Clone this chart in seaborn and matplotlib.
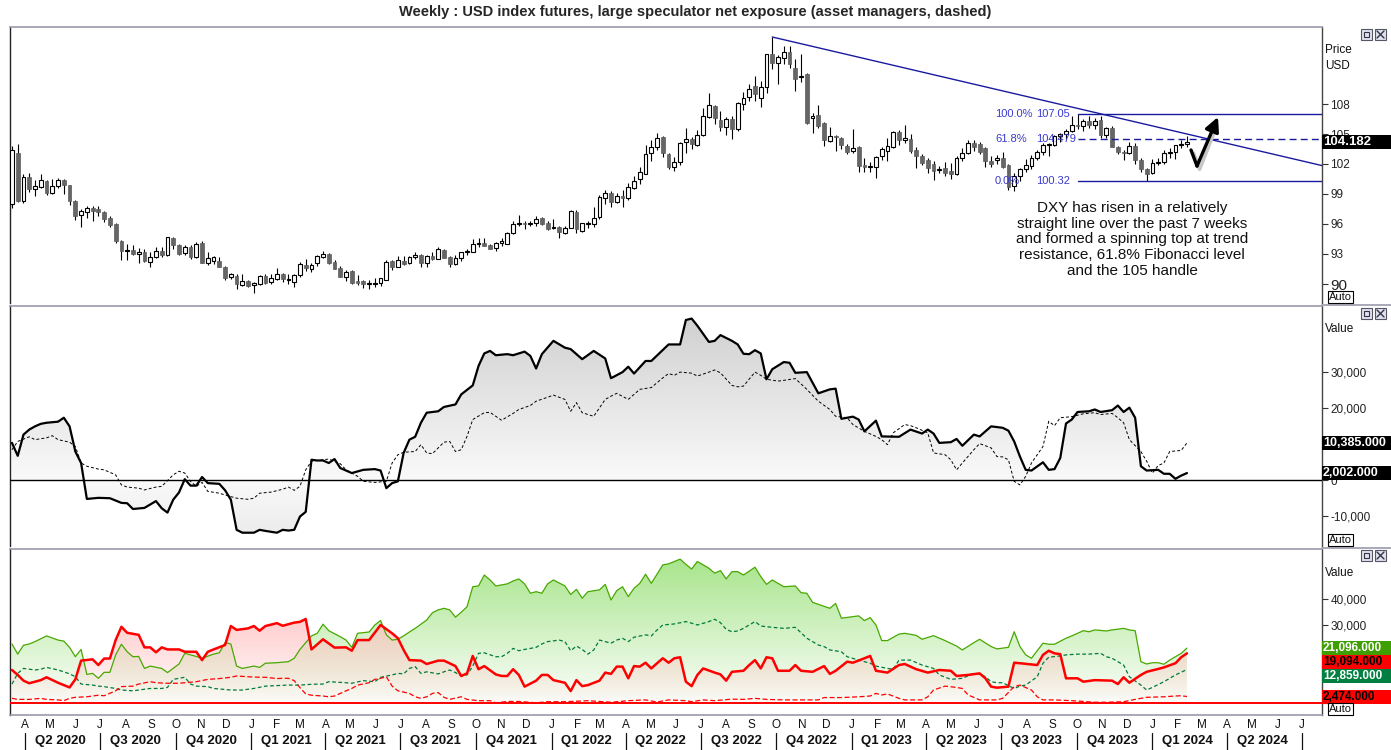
import numpy as np
import pandas as pd
import matplotlib
matplotlib.use("Agg")
import matplotlib.pyplot as plt
import matplotlib.dates as mdates
from matplotlib import font_manager, transforms
from matplotlib.path import Path
from matplotlib.patches import Rectangle
from matplotlib.lines import Line2D
import seaborn as sns

# ---------------- data ----------------
START = "2020-03-16"   # first weekly bar

opens = [98.0, 103.1, 98.3, 100.7, 99.5, 99.7, 100.3, 99.1, 99.8, 100.4,
         99.9, 98.3, 96.9, 97.2, 97.6, 97.5, 97.2, 96.6, 96.0, 94.3,
         93.3, 93.4, 93.0, 93.2, 92.2, 92.7, 93.3, 92.9, 94.6, 93.9,
         93.1, 93.7, 92.7, 94.1, 92.1, 92.3, 92.3, 91.7, 90.7, 90.8,
         89.9, 90.3, 89.9, 90.0, 90.8, 90.2, 90.5, 91.0, 90.4, 90.2,
         90.9, 91.9, 91.5, 92.1, 92.7, 93.0, 92.2, 91.6, 90.7, 91.3,
         90.3, 90.3, 90.0, 90.0, 90.1, 90.4, 92.3, 91.7, 92.3, 92.1,
         92.7, 92.9, 92.1, 92.8, 92.5, 93.4, 92.7, 92.0, 92.6, 93.2,
         93.2, 94.0, 94.1, 93.9, 93.6, 94.1, 94.0, 95.1, 96.0, 96.1,
         96.0, 96.1, 96.6, 96.1, 95.6, 95.7, 95.1, 95.6, 97.2, 95.3,
         96.0, 96.0, 96.7, 98.6, 99.1, 98.2, 98.8, 98.6, 99.6, 100.5,
         101.0, 103.1, 103.7, 104.7, 103.0, 101.7, 102.2, 104.2, 104.5, 103.9,
         104.9, 106.7, 107.8, 106.4, 105.7, 106.5, 105.5, 108.0, 108.7, 109.8,
         108.6, 109.7, 113.0, 112.1, 112.6, 113.2, 111.6, 110.7, 111.0, 106.6,
         106.9, 106.1, 104.3, 104.8, 104.6, 103.8, 103.3, 103.7, 101.9, 101.7,
         101.7, 102.8, 103.3, 103.7, 105.2, 104.4, 104.5, 103.4, 102.8, 102.4,
         102.0, 101.4, 101.6, 101.3, 101.0, 102.6, 103.1, 104.1, 104.0, 103.6,
         102.3, 102.4, 102.6, 101.9, 99.8, 100.8, 101.5, 101.8, 102.6, 103.2,
         103.9, 103.9, 104.8, 105.0, 105.3, 105.9, 105.8, 106.3, 105.9, 106.4,
         104.9, 105.6, 103.7, 103.2, 103.1, 103.8, 102.4, 101.5, 101.1, 102.1,
         102.2, 103.1, 103.2, 103.9, 104.0]
highs = [103.8, 104.0, 101.0, 101.1, 100.4, 101.0, 100.4, 100.5, 100.6, 100.5,
         99.9, 98.4, 97.5, 97.8, 97.8, 97.8, 97.3, 96.8, 96.1, 94.4,
         94.0, 93.9, 93.6, 93.5, 93.2, 93.7, 93.7, 94.7, 94.7, 94.0,
         93.9, 93.9, 94.2, 94.3, 93.2, 92.8, 92.7, 91.8, 91.1, 91.0,
         91.0, 90.4, 90.2, 90.9, 91.0, 91.0, 91.6, 91.1, 91.0, 91.0,
         92.2, 92.5, 92.1, 92.9, 93.3, 93.1, 92.4, 91.8, 91.4, 91.4,
         90.9, 90.4, 90.4, 90.6, 90.6, 92.4, 92.4, 92.8, 92.8, 92.8,
         93.2, 93.0, 92.9, 93.2, 93.7, 93.5, 92.8, 92.9, 93.2, 93.5,
         94.5, 94.6, 94.6, 94.0, 94.2, 94.6, 95.2, 96.3, 96.9, 96.3,
         96.3, 96.8, 96.7, 96.3, 96.5, 95.8, 95.8, 97.4, 97.4, 96.1,
         96.3, 97.7, 98.9, 99.4, 99.3, 99.1, 99.4, 100.1, 100.8, 101.7,
         103.9, 104.4, 105.1, 104.8, 103.1, 102.7, 104.2, 105.6, 104.7, 105.4,
         107.6, 109.1, 107.9, 107.3, 106.7, 106.8, 108.2, 109.2, 110.0, 110.8,
         110.3, 113.0, 114.7, 112.9, 113.8, 113.8, 112.5, 113.0, 111.1, 107.1,
         107.9, 106.2, 105.7, 104.9, 104.7, 104.0, 105.5, 103.8, 102.6, 102.2,
         102.8, 103.7, 104.6, 105.3, 105.4, 105.9, 105.0, 103.7, 103.0, 102.6,
         102.3, 101.8, 102.2, 102.1, 102.8, 103.6, 104.4, 104.4, 104.2, 103.7,
         102.8, 102.9, 103.2, 102.0, 101.1, 101.6, 102.5, 102.9, 103.4, 104.1,
         104.1, 104.9, 105.1, 105.5, 106.8, 107.05, 106.5, 106.8, 106.6, 106.8,
         105.7, 105.8, 103.8, 103.4, 104.2, 104.1, 102.6, 101.6, 102.5, 102.6,
         103.4, 103.6, 103.9, 104.4, 104.8]
lows = [97.6, 98.2, 98.1, 99.2, 98.8, 99.6, 98.9, 99.0, 99.6, 99.0,
        97.9, 96.4, 95.7, 96.6, 96.3, 96.8, 96.2, 95.7, 94.1, 92.4,
        92.4, 92.9, 92.1, 92.2, 91.7, 92.6, 92.7, 92.8, 93.5, 92.9,
        92.9, 92.5, 92.6, 92.1, 91.9, 92.0, 91.7, 90.4, 90.5, 89.5,
        89.8, 89.7, 89.1, 89.9, 90.0, 90.0, 90.4, 90.2, 90.0, 89.7,
        90.7, 91.3, 91.2, 91.8, 92.6, 92.0, 91.5, 90.7, 90.3, 90.0,
        89.9, 89.6, 89.5, 89.7, 89.8, 90.4, 91.4, 91.7, 91.9, 92.0,
        92.5, 91.7, 91.7, 92.4, 92.5, 92.6, 91.7, 91.9, 92.3, 92.9,
        93.2, 93.7, 93.8, 93.5, 93.3, 93.8, 94.0, 95.0, 95.8, 95.5,
        95.8, 95.8, 95.9, 95.4, 95.5, 94.6, 95.0, 95.6, 95.1, 95.2,
        95.6, 95.7, 96.5, 98.0, 97.7, 98.1, 97.7, 98.4, 99.5, 100.0,
        101.0, 102.3, 103.4, 102.7, 101.5, 101.3, 101.9, 103.1, 103.5, 103.8,
        104.8, 106.6, 106.0, 105.3, 104.9, 104.5, 105.3, 107.4, 108.3, 108.3,
        107.7, 109.1, 111.5, 110.0, 112.0, 111.6, 109.3, 110.2, 106.0, 105.1,
        105.6, 103.8, 104.2, 103.3, 103.5, 103.0, 103.1, 101.2, 101.2, 101.2,
        100.6, 102.4, 102.3, 103.6, 103.9, 104.1, 103.1, 101.6, 101.9, 101.1,
        100.4, 101.1, 100.8, 100.5, 100.9, 102.3, 103.0, 103.3, 103.0, 101.7,
        101.7, 102.0, 101.6, 99.4, 99.3, 100.3, 101.2, 101.5, 102.4, 102.9,
        102.8, 103.8, 104.2, 104.5, 105.2, 105.5, 105.3, 105.6, 105.5, 104.6,
        104.6, 103.7, 103.0, 102.4, 103.0, 102.0, 101.2, 100.32, 101.0, 101.9,
        102.0, 102.6, 102.5, 103.6, 103.7]
closes = [103.4, 98.3, 100.7, 99.5, 99.8, 100.4, 99.1, 99.8, 100.4, 99.9,
          98.3, 96.8, 97.3, 97.6, 97.3, 97.2, 96.5, 95.9, 94.3, 93.3,
          93.4, 93.0, 93.2, 92.3, 92.7, 93.3, 92.9, 94.7, 93.9, 93.0,
          93.7, 92.7, 94.0, 92.1, 92.6, 92.7, 91.7, 90.6, 91.0, 90.0,
          90.3, 89.8, 90.1, 90.8, 90.1, 90.6, 91.0, 90.5, 90.4, 90.9,
          92.0, 91.6, 91.9, 92.8, 93.0, 92.1, 91.5, 90.7, 91.2, 90.1,
          90.1, 90.0, 90.0, 90.1, 90.6, 92.2, 91.7, 92.4, 92.0, 92.7,
          92.9, 92.1, 92.8, 92.5, 93.5, 92.6, 92.0, 92.6, 93.2, 93.3,
          94.0, 94.1, 93.8, 93.5, 94.1, 94.3, 95.1, 96.0, 96.1, 96.0,
          96.1, 96.5, 96.0, 95.5, 95.7, 95.2, 95.6, 97.3, 95.5, 96.1,
          96.0, 96.6, 98.7, 99.1, 98.2, 98.8, 98.6, 99.7, 100.3, 101.2,
          103.0, 103.7, 104.6, 103.1, 101.7, 102.2, 104.1, 104.5, 104.0, 104.9,
          106.8, 107.9, 106.6, 105.7, 106.5, 105.5, 108.1, 108.6, 109.5, 109.0,
          109.7, 113.0, 112.1, 112.7, 113.2, 112.0, 110.5, 110.7, 106.1, 106.8,
          105.8, 104.4, 104.8, 104.7, 103.9, 103.2, 103.6, 101.8, 101.7, 101.7,
          102.7, 103.5, 103.8, 105.2, 104.4, 104.6, 103.3, 102.8, 102.1, 101.6,
          101.3, 101.5, 101.1, 101.0, 102.6, 103.1, 104.1, 103.7, 103.2, 102.3,
          102.0, 102.6, 101.7, 99.7, 100.8, 101.5, 101.9, 102.6, 103.2, 103.9,
          103.9, 104.8, 105.0, 105.3, 105.9, 105.8, 106.3, 105.9, 106.3, 104.9,
          105.6, 103.7, 103.2, 103.1, 103.8, 102.4, 101.5, 101.0, 102.1, 102.2,
          103.1, 103.2, 103.9, 104.0, 104.182]

# COT positions, (week number from START, thousands of contracts)
net_spec = [(0,10.4),(1,6.8),(2,12.7),(3,14.1),(4,15.0),(5,15.7),(6,16.0),(8,16.3),(9,17.4),(10,15.0),
    (11,8.0),(12,4.8),(13,-5.2),(15,-4.9),(17,-5.0),(19,-6.3),(20,-6.4),(21,-8.0),(23,-7.7),(25,-5.8),
    (26,-7.8),(27,-9.0),(28,-5.4),(29,-3.4),(30,0.3),(31,-1.5),(32,-1.5),(33,0.9),(34,-0.8),(36,-1.0),
    (37,-2.8),(38,-5.4),(39,-13.8),(40,-14.6),(42,-14.6),(43,-13.8),(44,-14.1),(46,-14.6),(47,-13.8),(48,-14.0),
    (49,-13.8),(50,-10.1),(51,-8.8),(52,5.7),(53,5.5),(54,5.5),(55,4.8),(56,5.9),(57,3.4),(59,2.0),
    (61,2.9),(63,3.1),(64,2.7),(65,-2.2),(66,-0.8),(67,-0.3),(68,7.6),(69,11.3),(70,12.1),(71,16.0),
    (72,18.8),(74,19.2),(75,20.4),(77,21.1),(78,23.9),(80,26.4),(81,31.8),(82,35.3),(83,36.0),(84,34.8),
    (86,35.1),(87,34.8),(89,35.8),(90,34.6),(91,31.1),(92,35.1),(94,38.8),(96,36.9),(97,36.5),(99,33.7),
    (101,36.0),(103,33.9),(104,28.4),(106,30.1),(107,31.6),(108,29.7),(110,33.2),(111,33.2),(114,37.8),(116,37.8),
    (117,44.6),(118,45.0),(119,43.0),(121,38.5),(122,38.8),(123,40.4),(125,38.8),(126,37.8),(127,35.2),(128,35.1),
    (129,36.2),(130,35.3),(131,28.1),(132,30.9),(134,32.9),(135,32.7),(136,29.9),(138,30.1),(140,24.2),(142,25.3),
    (143,25.5),(144,17.1),(146,17.7),(147,16.9),(148,13.6),(150,16.6),(151,12.2),(154,12.1),(156,14.1),(158,13.0),
    (159,14.1),(160,13.0),(161,10.4),(163,10.6),(164,11.5),(165,9.6),(167,12.7),(168,12.2),(170,15.0),(172,14.6),
    (173,13.8),(174,10.8),(175,6.6),(176,2.9),(177,2.7),(179,5.0),(180,2.9),(181,3.1),(182,6.2),(183,15.8),
    (184,16.9),(185,19.0),(187,19.2),(188,19.7),(189,19.0),(191,19.5),(192,20.8),(193,19.0),(194,20.2),(195,17.4),
    (196,3.9),(197,2.7),(199,2.9),(200,1.8),(201,1.8),(202,0.4),(203,1.3),(204,2.0)]
net_am = [(0,8.5),(1,10.8),(3,12.1),(4,11.3),(6,11.8),(7,12.4),(8,11.3),(10,10.6),(11,9.4),(12,4.8),
    (13,3.9),(15,3.1),(16,2.9),(18,1.5),(19,-1.3),(20,-1.9),(22,-2.2),(23,-2.7),(25,-1.9),(26,-1.7),
    (28,1.5),(29,2.5),(30,2.0),(31,-0.3),(32,-1.7),(33,-0.6),(34,-3.1),(36,-3.6),(37,-4.1),(39,-5.0),
    (41,-5.3),(42,-5.0),(43,-3.6),(45,-3.3),(47,-2.5),(48,-1.9),(49,-2.8),(50,-1.7),(51,2.9),(52,5.3),
    (54,5.7),(55,5.9),(57,4.6),(58,2.9),(60,1.1),(61,-0.3),(63,-0.6),(65,-0.3),(66,4.8),(67,7.1),
    (68,7.8),(70,8.0),(71,9.9),(72,7.6),(73,7.4),(75,10.6),(76,10.8),(77,8.0),(78,8.5),(79,12.2),
    (80,16.9),(82,18.8),(83,18.9),(85,16.7),(87,18.6),(88,19.7),(90,20.8),(91,22.0),(93,23.1),(94,23.7),
    (96,22.5),(97,19.2),(98,21.6),(99,18.8),(101,17.8),(103,22.5),(104,23.4),(105,24.2),(107,22.5),(109,25.3),
    (111,25.8),(113,28.5),(114,29.7),(115,29.2),(116,30.1),(118,29.8),(119,29.0),(121,30.1),(122,30.7),(123,29.9),
    (125,26.4),(126,26.0),(127,26.2),(129,30.1),(130,29.2),(131,28.1),(133,27.6),(134,27.8),(136,28.3),(138,25.3),
    (140,22.0),(142,19.7),(143,17.8),(145,17.4),(146,15.5),(148,13.6),(150,12.2),(151,11.3),(152,9.9),(153,13.2),
    (155,15.5),(156,15.2),(157,14.6),(159,13.2),(160,7.6),(162,7.1),(163,5.7),(164,2.9),(165,4.8),(167,8.5),
    (168,10.2),(170,9.0),(171,6.6),(172,6.5),(173,5.7),(174,-0.3),(175,-1.3),(176,1.1),(177,4.8),(179,9.4),
    (180,16.4),(181,15.2),(182,17.4),(184,17.7),(186,18.5),(188,18.8),(189,18.3),(191,18.6),(192,17.4),(193,16.0),
    (194,11.3),(196,8.0),(197,5.3),(198,2.0),(199,4.1),(200,4.8),(201,8.0),(203,8.3),(204,10.4)]
spec_long = [(0,22.7),(1,18.8),(2,22.2),(3,22.7),(4,23.6),(6,25.8),(8,24.2),(9,23.8),(10,21.4),(11,17.8),
    (12,20.6),(13,11.0),(14,11.4),(15,9.5),(16,11.8),(17,11.8),(18,18.5),(19,22.6),(20,19.7),(21,17.8),
    (22,17.9),(23,13.3),(24,14.2),(26,13.3),(27,11.7),(29,15.0),(30,19.1),(31,18.5),(32,17.9),(33,17.2),
    (35,18.8),(36,19.3),(37,23.2),(38,22.7),(39,14.2),(40,13.3),(42,14.2),(43,13.7),(44,15.3),(46,15.5),
    (48,15.9),(49,17.2),(50,20.6),(52,25.8),(53,26.8),(54,30.3),(55,27.8),(57,25.5),(58,24.2),(59,21.4),
    (60,26.8),(62,27.3),(63,30.0),(64,31.7),(65,26.2),(66,24.2),(67,24.5),(68,25.8),(69,27.3),(70,28.7),
    (72,31.9),(73,34.7),(74,35.8),(75,36.4),(76,35.8),(77,33.0),(78,34.9),(79,37.0),(80,44.7),(81,45.0),
    (82,49.2),(83,47.3),(84,45.0),(86,45.8),(87,46.9),(88,47.7),(89,45.8),(90,42.2),(91,42.8),(92,42.2),
    (93,45.8),(94,47.3),(96,45.0),(97,41.7),(98,43.7),(99,40.3),(100,42.8),(102,43.5),(103,45.6),(104,39.6),
    (105,43.2),(106,44.7),(107,40.9),(108,44.1),(109,46.0),(110,49.5),(111,46.0),(113,53.1),(114,53.5),(115,54.4),
    (116,55.3),(117,53.3),(118,51.5),(119,54.4),(121,51.8),(122,49.9),(123,50.9),(124,47.7),(125,50.5),(126,50.5),
    (127,49.2),(129,52.2),(130,48.6),(131,45.6),(132,47.3),(134,44.7),(136,45.0),(137,42.4),(138,42.2),(139,38.7),
    (142,36.4),(143,38.3),(144,32.6),(147,33.5),(148,31.7),(149,32.8),(150,30.0),(151,24.0),(152,24.0),(154,26.5),
    (155,26.8),(157,26.0),(158,24.5),(160,25.9),(162,24.0),(164,21.9),(165,20.4),(167,23.2),(168,24.5),(170,21.7),
    (171,20.8),(173,21.4),(174,27.4),(175,21.7),(176,18.5),(177,17.2),(179,23.0),(180,22.6),(181,22.6),(183,24.9),
    (184,25.8),(186,27.8),(187,27.4),(188,28.1),(190,27.7),(191,28.1),(193,28.7),(194,28.1),(195,27.8),(196,15.9),
    (197,15.0),(198,15.5),(199,15.5),(200,14.9),(201,16.5),(202,17.8),(203,19.1),(204,21.1)]
spec_short = [(0,12.7),(1,10.8),(2,8.6),(3,7.6),(5,8.8),(6,9.9),(8,7.8),(9,6.9),(10,6.0),(11,9.1),
    (12,16.3),(14,16.8),(15,14.6),(16,17.1),(17,17.1),(18,24.2),(19,29.3),(20,27.0),(22,26.2),(23,21.4),
    (24,21.4),(25,19.5),(26,21.4),(27,20.6),(29,20.6),(30,19.7),(32,19.7),(33,16.5),(34,19.7),(35,20.6),
    (37,22.3),(38,29.6),(39,28.1),(41,28.7),(42,29.6),(43,27.8),(44,29.6),(46,30.7),(47,29.7),(49,30.9),
    (50,31.2),(51,32.3),(52,20.6),(54,24.5),(56,21.3),(58,21.4),(59,20.1),(60,24.2),(62,24.2),(64,30.0),
    (66,26.8),(67,24.9),(68,20.4),(69,16.5),(71,16.3),(72,15.0),(74,16.3),(75,16.3),(77,14.2),(78,10.4),
    (79,11.4),(80,18.1),(81,13.0),(82,14.2),(84,11.0),(85,10.4),(86,10.4),(87,13.0),(88,10.8),(89,6.3),
    (91,8.6),(92,10.8),(93,10.8),(94,8.8),(96,7.8),(97,4.6),(98,8.8),(99,6.5),(100,6.9),(102,8.6),
    (103,11.7),(104,11.2),(105,14.0),(106,14.0),(107,9.5),(108,14.2),(109,14.0),(110,15.5),(111,13.3),(112,15.3),
    (113,17.2),(114,15.5),(115,17.2),(116,17.6),(117,8.2),(118,6.5),(119,10.8),(120,13.3),(122,11.7),(123,11.0),
    (124,8.6),(125,12.0),(127,12.4),(128,14.6),(129,16.5),(130,13.3),(131,17.6),(132,17.2),(133,12.4),(135,12.4),
    (136,14.6),(137,12.4),(139,12.0),(141,14.2),(142,11.2),(143,12.4),(145,15.9),(146,15.5),(148,17.2),(149,18.1),
    (150,12.4),(152,11.7),(154,14.6),(155,15.0),(157,13.0),(159,11.7),(161,12.7),(163,12.4),(164,10.4),(166,10.8),
    (168,11.4),(169,9.5),(170,6.3),(171,5.9),(173,6.3),(174,15.5),(175,15.3),(178,14.6),(179,18.5),(180,20.1),
    (181,19.1),(182,18.8),(183,9.5),(185,9.5),(186,8.2),(188,8.8),(191,8.6),(192,7.3),(193,9.9),(194,7.8),
    (196,10.8),(197,12.0),(199,13.1),(200,13.7),(202,15.3),(203,17.6),(204,19.1)]
am_long = [(0,7.3),(1,11.4),(2,13.3),(4,12.7),(5,13.0),(6,13.7),(8,12.7),(9,12.0),(10,11.2),(11,10.1),
    (12,7.3),(14,6.9),(15,6.5),(16,6.3),(18,5.6),(19,5.0),(21,4.7),(22,5.0),(24,5.6),(26,5.6),
    (27,6.0),(28,9.1),(30,9.9),(31,7.3),(32,6.5),(34,6.3),(35,5.6),(38,5.0),(40,5.0),(42,5.6),
    (44,6.5),(46,6.7),(48,6.9),(50,6.9),(52,7.2),(54,7.3),(55,8.2),(58,7.8),(59,7.6),(61,8.6),
    (63,8.2),(64,9.9),(66,10.8),(67,11.4),(68,11.2),(69,13.3),(70,14.0),(71,11.4),(72,12.0),(74,11.2),
    (75,12.0),(76,12.7),(77,11.7),(78,10.4),(79,10.8),(80,14.2),(81,19.1),(82,19.3),(84,17.8),(85,17.8),
    (86,19.1),(87,21.0),(88,20.1),(89,20.6),(91,21.4),(92,22.7),(93,23.6),(95,24.2),(96,23.6),(97,20.1),
    (98,21.9),(99,20.6),(100,18.8),(101,20.4),(102,24.2),(104,23.0),(105,24.2),(106,24.9),(107,23.6),(108,25.3),
    (110,26.2),(111,25.8),(112,28.1),(113,30.0),(115,30.4),(117,31.3),(118,30.7),(119,30.0),(121,31.3),(122,32.2),
    (123,30.9),(124,28.3),(125,27.4),(126,27.7),(127,28.7),(129,31.3),(130,29.6),(132,29.1),(134,28.7),(136,29.1),
    (137,27.0),(138,24.9),(140,22.3),(141,21.7),(142,20.4),(144,19.7),(145,17.8),(147,16.5),(149,15.3),(150,14.2),
    (152,13.3),(153,13.0),(154,16.5),(156,16.5),(158,14.6),(160,13.3),(161,10.8),(163,9.1),(165,9.5),(167,11.4),
    (168,11.2),(169,10.1),(170,8.2),(171,7.8),(172,7.8),(174,5.6),(175,6.5),(176,6.9),(178,10.1),(179,15.3),
    (180,17.6),(182,18.1),(183,18.5),(185,18.8),(187,18.8),(189,19.1),(190,17.8),(191,17.2),(193,14.6),(194,10.1),
    (196,6.9),(197,5.0),(198,6.0),(200,8.2),(201,9.5),(202,10.8),(204,12.9)]
am_short = [(0,1.8),(1,1.4),(3,1.4),(5,1.8),(6,1.4),(8,1.2),(9,0.9),(10,1.8),(11,2.2),(13,2.4),
    (15,3.0),(16,2.8),(18,4.7),(19,6.3),(21,6.5),(22,7.3),(24,8.2),(25,7.8),(27,7.6),(29,7.6),
    (30,7.8),(32,8.2),(34,9.1),(36,9.4),(38,9.9),(39,10.4),(41,10.1),(43,9.9),(44,9.9),(46,9.4),
    (47,9.5),(48,9.5),(49,8.6),(50,5.9),(51,3.5),(52,3.0),(54,2.7),(55,2.4),(56,2.7),(58,4.7),
    (59,5.6),(60,6.9),(62,7.8),(63,9.1),(64,9.5),(65,10.1),(66,6.5),(67,4.7),(69,3.7),(70,2.4),
    (71,1.8),(72,2.4),(73,3.7),(74,4.0),(75,2.2),(76,1.4),(78,2.4),(79,1.4),(81,0.9),(83,0.9),
    (84,0.1),(86,0.6),(88,0.6),(91,0.1),(93,0.5),(96,0.5),(98,0.7),(100,0.9),(102,0.6),(104,0.3),
    (107,0.9),(110,1.2),(112,0.4),(114,1.2),(117,0.9),(118,0.5),(120,1.2),(122,0.9),(125,1.5),(127,1.4),
    (129,1.8),(131,1.4),(134,1.2),(137,1.2),(140,1.2),(141,2.1),(144,2.1),(147,2.4),(149,2.7),(150,3.7),
    (151,3.1),(152,3.5),(154,1.8),(155,1.2),(158,1.2),(159,2.4),(160,5.0),(162,6.5),(164,6.0),(165,5.6),
    (166,3.1),(168,1.2),(171,1.2),(172,1.8),(174,6.3),(175,6.9),(177,5.0),(178,2.4),(179,1.2),(181,1.2),
    (184,0.9),(188,0.3),(190,0.3),(193,0.5),(195,1.4),(197,2.2),(200,2.4),(202,2.7),(203,2.8),(204,2.5)]

price_ticks = [90, 93, 96, 99, 102, 105, 108]
mid_ticks = [-10, 0, 10, 20, 30]
mid_shown = [-10, 0, 20, 30]          # 10,000 is hidden behind the value box
bot_ticks = [0, 10, 20, 30, 40]
bot_shown = [30, 40]                  # lower labels hidden behind the value boxes
last_labels = ["104.182", "10,385.000", "2,002.000", "21,096.000", "19,094.000", "12,859.000", "2,474.000"]
title = "Weekly : USD index futures, large speculator net exposure (asset managers, dashed)"
note = ("DXY has risen in a relatively\nstraight line over the past 7 weeks\n"
        "and formed a spinning top at trend\nresistance, 61.8% Fibonacci level\nand the 105 handle")
fib_high_week, fib_low_week = 185, 197
trend_weeks = (132, 204)
trend_prices = (114.7, 105.0)

# ---------------- style ----------------
sns.set_theme(style="white")
names = {f.name for f in font_manager.fontManager.ttflist}
NARROW = "Liberation Sans Narrow" if "Liberation Sans Narrow" in names else "Liberation Sans"
plt.rcParams["font.family"] = ["Liberation Sans", "DejaVu Sans"]

W, H = 1391, 750
fig = plt.figure(figsize=(W / 100, H / 100), dpi=100)
fig.patch.set_facecolor("white")


def fx(px):
    return px / W


def fy(py):
    return 1 - py / H


L, R = 10, 1322


def make_ax(top, bottom):
    return fig.add_axes([fx(L), fy(bottom), (R - L) / W, (bottom - top) / H])


ax1 = make_ax(27, 303)
ax2 = make_ax(306, 546)
ax3 = make_ax(549, 715)
ax2.sharex(ax1)
ax3.sharex(ax1)

t0 = mdates.date2num(pd.Timestamp(START).to_pydatetime())
xw = t0 + 7 * np.arange(len(closes))


def cot(pairs):
    w = np.array([p[0] for p in pairs], float)
    v = np.array([p[1] for p in pairs], float)
    return t0 + 7 * w, v


def grad_fill(ax, x, y, rgb, amin, amax, vref, z):
    coll = ax.fill_between(x, y, 0, facecolor="none", edgecolor="none", linewidth=0)
    path = Path.make_compound_path(*coll.get_paths())
    coll.remove()
    lo, hi = min(0.0, y.min()), max(0.0, y.max())
    vals = np.linspace(lo, hi, 400)
    a = np.clip(amin + (amax - amin) * np.abs(vals) / vref, 0, 1)
    img = np.zeros((400, 1, 4))
    img[..., 0], img[..., 1], img[..., 2] = rgb
    img[..., 3] = a[:, None]
    im = ax.imshow(img, extent=[x.min(), x.max(), lo, hi], origin="lower",
                   aspect="auto", interpolation="bilinear", zorder=z)
    im.set_clip_path(path, ax.transData)


# ---------------- top: candles ----------------
o, h, l, c = map(np.array, (opens, highs, lows, closes))
up = c >= o
ax1.vlines(xw, l, h, color="black", lw=0.8, zorder=2)
blo = np.minimum(o, c)
bh = np.maximum(np.abs(c - o), 0.06)
ax1.bar(xw[up], bh[up], bottom=blo[up], width=4.6, facecolor="white",
        edgecolor="black", linewidth=0.8, zorder=3)
ax1.bar(xw[~up], bh[~up], bottom=blo[~up], width=4.6, facecolor="#666666",
        edgecolor="#5a5a5a", linewidth=0.5, zorder=3)

xl, xr = t0 - 2.4, t0 + 1592.1
# trend line
tx0, tx1 = t0 + 7 * trend_weeks[0], t0 + 7 * trend_weeks[1]
slope = (trend_prices[1] - trend_prices[0]) / (tx1 - tx0)
ax1.plot([tx0, xr], [trend_prices[0], trend_prices[0] + slope * (xr - tx0)],
         color="#1a1aa0", lw=1.0, zorder=4)
# fibonacci
fhi, flo = highs[fib_high_week], lows[fib_low_week]
f618 = flo + 0.618 * (fhi - flo)
fx0 = t0 + 7 * fib_high_week
ax1.plot([fx0, xr], [fhi, fhi], color="#1a1aa0", lw=1.0, zorder=4)
ln, = ax1.plot([fx0, xr], [f618, f618], color="#1a1aa0", lw=1.0, zorder=4)
ln.set_dashes([5, 3])
ax1.plot([fx0, xr], [flo, flo], color="#1a1aa0", lw=1.0, zorder=4)
btr = transforms.blended_transform_factory(ax1.transAxes, ax1.transData)
for pct, lev, txt in [("100.0%", fhi, f"{fhi:.2f}"), ("61.8%", f618, f"{f618:.3f}"),
                      ("0.0%", flo, f"{flo:.2f}")]:
    ax1.text((995 - L) / (R - L), lev, pct, transform=btr, color="#3a3ad0",
             fontsize=8, family=NARROW, va="center", ha="left", zorder=5)
    ax1.text((1036 - L) / (R - L), lev, txt, transform=btr, color="#3a3ad0",
             fontsize=8, family=NARROW, va="center", ha="left", zorder=5)

ax1.text((1132 - L) / (R - L), (303 - 239.5) / 276, note, transform=ax1.transAxes,
         ha="center", va="center", fontsize=11, family=NARROW, linespacing=1.17,
         color="#111111", zorder=6)

# check mark
A = ((1191 - L) / (R - L), (303 - 150) / 276)
B = ((1197 - L) / (R - L), (303 - 166) / 276)
C = ((1218 - L) / (R - L), (303 - 117) / 276)
sh = (0.002, -0.012)
ax1.plot([A[0] + sh[0], B[0] + sh[0], C[0] + sh[0] - 0.003], [A[1] + sh[1], B[1] + sh[1], C[1] + sh[1] - 0.02],
         transform=ax1.transAxes, color="#c8c8c8", lw=2.6, zorder=5, solid_capstyle="round")
ax1.plot([A[0], B[0]], [A[1], B[1]], transform=ax1.transAxes, color="black",
         lw=2.4, zorder=6, solid_capstyle="round")
ax1.annotate("", xy=C, xytext=B, xycoords="axes fraction", textcoords="axes fraction",
             arrowprops=dict(arrowstyle="-|>,head_length=0.7,head_width=0.35", color="black",
                             lw=2.4, shrinkA=0, shrinkB=0, mutation_scale=12), zorder=6)

# ---------------- middle: net positions ----------------
xs, vs = cot(net_spec)
xa, va = cot(net_am)
grad_fill(ax2, xs, vs, (0.45, 0.45, 0.45), 0.04, 0.30, 40, 1)
ax2.axhline(0, color="black", lw=1.0, zorder=3)
sns.lineplot(x=xa, y=va, ax=ax2, color="black", linewidth=0.7, estimator=None,
             sort=False, legend=False, zorder=4)
ax2.lines[-1].set_dashes([3, 2.2])
sns.lineplot(x=xs, y=vs, ax=ax2, color="black", linewidth=1.6, estimator=None,
             sort=False, legend=False, zorder=5)

# ---------------- bottom: longs and shorts ----------------
xlg, vlg = cot(spec_long)
xsh, vsh = cot(spec_short)
xal, val = cot(am_long)
xas, vas = cot(am_short)
grad_fill(ax3, xlg, vlg, (0.66, 0.90, 0.55), 0.03, 1.0, 55, 1)
grad_fill(ax3, xsh, vsh, (1.0, 0.76, 0.76), 0.03, 0.8, 32, 1.1)
ax3.axhline(0, color="#ff0000", lw=1.4, zorder=3)
sns.lineplot(x=xlg, y=vlg, ax=ax3, color="#48a800", linewidth=0.9, estimator=None,
             sort=False, legend=False, zorder=4)
sns.lineplot(x=xal, y=val, ax=ax3, color="#007a3a", linewidth=0.9, estimator=None,
             sort=False, legend=False, zorder=4)
ax3.lines[-1].set_dashes([3, 2])
sns.lineplot(x=xas, y=vas, ax=ax3, color="#ff0000", linewidth=0.9, estimator=None,
             sort=False, legend=False, zorder=4)
ax3.lines[-1].set_dashes([4, 2])
sns.lineplot(x=xsh, y=vsh, ax=ax3, color="#ff0000", linewidth=1.8, estimator=None,
             sort=False, legend=False, zorder=5)

# ---------------- axes cosmetics ----------------
ax1.set_xlim(xl, xr)
ax1.set_ylim(88.1, 115.7)
ax2.set_ylim(-18.3, 48.5)
ax3.set_ylim(-4.6, 59.2)

for ax in (ax1, ax2, ax3):
    ax.set_facecolor("white")
    ax.grid(False)
    ax.yaxis.tick_right()
    ax.tick_params(axis="y", direction="out", length=4, width=0.8, colors="#333333",
                   labelsize=8.5, labelcolor="#222222", pad=2, labelfontfamily=NARROW,
                   left=False, right=True)
    ax.spines["top"].set_color("#9a9aaa")
    ax.spines["top"].set_linewidth(1.2)
    ax.spines["left"].set_color("#222222")
    ax.spines["left"].set_linewidth(1.0)
    ax.spines["right"].set_color("#444444")
    ax.spines["right"].set_linewidth(1.0)
    ax.spines["bottom"].set_visible(False)
    ax.set_xlabel("")
    ax.set_ylabel("")
ax3.spines["bottom"].set_visible(True)
ax3.spines["bottom"].set_color("#9a9aaa")
ax3.spines["bottom"].set_linewidth(1.2)

ax1.set_yticks(price_ticks)
ax1.set_yticklabels([str(t) for t in price_ticks])
ax1.get_yticklabels()[0].set_fontsize(11)
ax2.set_yticks(mid_ticks)
ax2.set_yticklabels([f"{t * 1000:,.0f}" if t in mid_shown else "" for t in mid_ticks])
ax3.set_yticks(bot_ticks)
ax3.set_yticklabels([f"{t * 1000:,.0f}" if t in bot_shown else "" for t in bot_ticks])

for ax in (ax1, ax2):
    ax.tick_params(axis="x", bottom=False, labelbottom=False, length=0)

months = pd.date_range("2020-04-01", "2024-07-01", freq="MS")
mx = mdates.date2num(months.to_pydatetime())
ax3.set_xticks(mx)
ax3.set_xticklabels([m.strftime("%B")[0] for m in months])
ax3.tick_params(axis="x", length=0, pad=3, labelsize=8.5, labelcolor="#111111")

qs = pd.date_range("2020-04-01", "2024-07-01", freq="QS")
qx = mdates.date2num(qs.to_pydatetime())
btq = transforms.blended_transform_factory(ax3.transData, ax3.transAxes)
for i, q in enumerate(qs):
    ax3.plot([qx[i], qx[i]], [(715 - 733) / 166, (715 - 751) / 166], transform=btq,
             color="#111111", lw=0.9, clip_on=False)
    if i < len(qs) - 1:
        ax3.text((qx[i] + qx[i + 1]) / 2 - 3, (715 - 741) / 166, f"Q{(q.month - 1) // 3 + 1} {q.year}",
                 transform=btq, ha="center", va="center", fontsize=9.5,
                 fontweight="bold", color="#111111", clip_on=False)

# ---------------- figure-level decorations ----------------
fig.text(0.5, fy(12), title, ha="center", va="center", fontsize=10.5, fontweight="bold")

for yy in (305, 547.5):
    fig.add_artist(Line2D([fx(R), 1], [fy(yy), fy(yy)], transform=fig.transFigure,
                          color="#9a9aaa", lw=1.2))

for txt, yy in [("Price", 50), ("USD", 66), ("Value", 329), ("Value", 573)]:
    fig.text(fx(1325), fy(yy), txt, fontsize=8.5, family=NARROW, va="center", ha="left",
             color="#111111")

for yy in (297, 540, 709):
    fig.text(fx(1329), fy(yy), "Auto", fontsize=8, family=NARROW, va="center", ha="left",
             color="#111111", zorder=12,
             bbox=dict(boxstyle="square,pad=0.1", fc="white", ec="black", lw=0.8))

for yt in (29, 308, 550):
    fig.add_artist(Rectangle((fx(1361), fy(yt + 11)), 11 / W, 11 / H, transform=fig.transFigure,
                             fc="#dfe2ec", ec="#555566", lw=0.8, zorder=12))
    fig.add_artist(Rectangle((fx(1364), fy(yt + 8)), 5 / W, 5 / H, transform=fig.transFigure,
                             fc="none", ec="#333344", lw=0.8, zorder=13))
    fig.add_artist(Rectangle((fx(1375), fy(yt + 11)), 11 / W, 11 / H, transform=fig.transFigure,
                             fc="#dfe2ec", ec="#555566", lw=0.8, zorder=12))
    for (xa0, ya0, xa1, ya1) in [(1377, yt + 2, 1384, yt + 9), (1377, yt + 9, 1384, yt + 2)]:
        fig.add_artist(Line2D([fx(xa0), fx(xa1)], [fy(ya0), fy(ya1)], transform=fig.transFigure,
                              color="#333344", lw=1.0, zorder=13))

box_specs = [(142, "black", "white", 9.5), (443, "black", "white", 9), (473, "black", "white", 9),
             (648, "#3f9f00", "white", 8.5), (662, "#ff0000", "black", 8.5),
             (676, "#008040", "white", 8.5), (697, "#ff0000", "black", 8.5)]
for (yy, fc, tc, fs), lab in zip(box_specs, last_labels):
    fig.add_artist(Rectangle((fx(R), fy(yy + 7)), (W - R) / W, 14 / H, transform=fig.transFigure,
                             fc=fc, ec="none", zorder=10))
    fig.text(fx(R + 1), fy(yy), lab, color=tc, fontsize=fs, fontweight="bold", family=NARROW,
             va="center", ha="left", zorder=11)

fig.savefig("out.png", dpi=100, facecolor="white")
